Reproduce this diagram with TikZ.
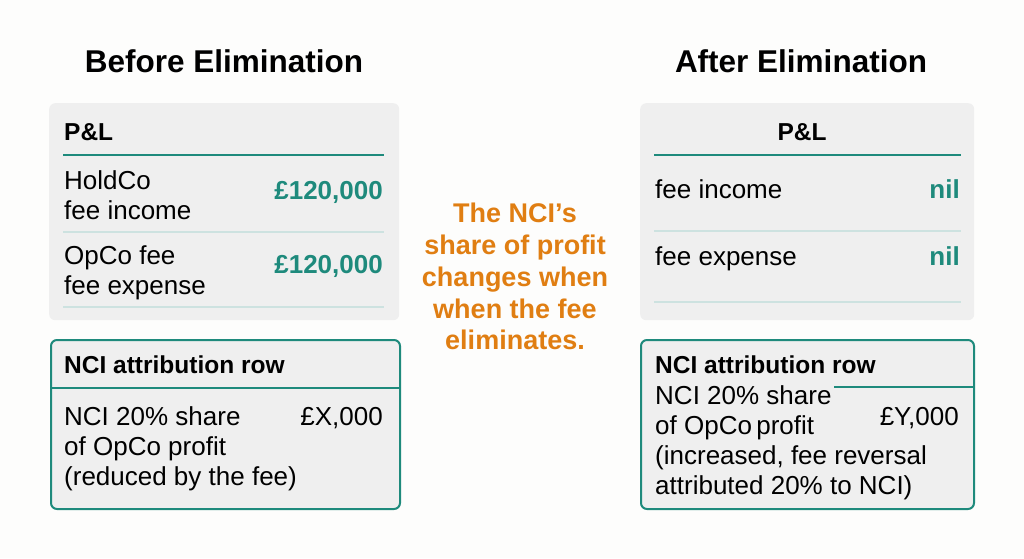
\documentclass[tikz,border=0pt]{standalone}
\usepackage{fontspec}
\setmainfont{Liberation Sans}
\definecolor{tealc}{HTML}{1E8A7C}
\definecolor{thinc}{HTML}{CDE2E0}
\definecolor{panelc}{HTML}{EFEFEF}
\definecolor{orangec}{HTML}{E07E12}
\definecolor{bgc}{HTML}{FDFDFC}
\begin{document}
\begin{tikzpicture}[x=1pt,y=-1pt,
  title/.style={font=\fontsize{31.5}{36}\selectfont\bfseries, anchor=base, inner sep=0},
  head/.style={font=\fontsize{24.5}{28}\selectfont\bfseries, anchor=base west, inner sep=0},
  body/.style={font=\fontsize{26}{30}\selectfont, anchor=base west, inner sep=0},
  val/.style={font=\fontsize{26}{30}\selectfont\bfseries, text=tealc, anchor=base east, inner sep=0},
  valr/.style={font=\fontsize{26}{30}\selectfont, anchor=base east, inner sep=0},
  panel/.style={fill=panelc, draw=none, rounded corners=6pt, anchor=north west, inner sep=0},
  ncibox/.style={fill=panelc, draw=tealc, line width=2pt, rounded corners=6pt, anchor=north west, inner sep=0},
  rulel/.style={draw=tealc, line width=2.6pt},
  thinl/.style={draw=thinc, line width=1.3pt},
  note/.style={font=\fontsize{27}{32}\selectfont\bfseries, text=orangec, anchor=base, inner sep=0}]
\useasboundingbox (0,0) rectangle (1024,558);
\fill[bgc] (0,0) rectangle (1024,558);

% titles
\node[title] (tB) at (224,72) {Before Elimination};
\node[title] (tA) at (801,72) {After Elimination};

% left P&L panel
\node[panel, minimum width=350, minimum height=217] (plL) at (49,103) {};
\node[head] (plLh) at (64,140) {P\&L};
\draw[rulel] (63,155) -- (384,155);
\node[body] (l1a) at (64,189) {HoldCo};
\node[body] (l1b) at (64,219) {fee income};
\node[val] (l1v) at (383,199) {£120,000};
\draw[thinl] (63,232) -- (384,232);
\node[body] (l2a) at (64,264) {OpCo fee};
\node[body] (l2b) at (64,294) {fee expense};
\node[val] (l2v) at (383,273) {£120,000};
\draw[thinl] (63,307) -- (384,307);

% left NCI box
\node[ncibox, minimum width=349, minimum height=169] (nL) at (50,339) {};
\node[head] (nLh) at (64,373) {NCI attribution row};
\draw[draw=tealc, line width=2pt] (nL.west |- 0,388) -- (nL.east |- 0,388);
\node[body] (n1) at (64,425) {NCI 20\% share};
\node[body] (n2) at (64,455) {of OpCo profit};
\node[body] (n3) at (64,485) {(reduced by the fee)};
\node[valr] (nLv) at (383,425) {£X,000};

% center note
\node[note] (c1) at (515,222) {The NCI’s};
\node[note] (c2) at (515,254) {share of profit};
\node[note] (c3) at (515,286) {changes when};
\node[note] (c4) at (515,318) {when the fee};
\node[note] (c5) at (515,349) {eliminates.};

% right P&L panel
\node[panel, minimum width=334, minimum height=217] (plR) at (640,103) {};
\node[head, anchor=base] (plRh) at (802,140) {P\&L};
\draw[rulel] (654,155) -- (961,155);
\node[body] (r1a) at (655,198) {fee income};
\node[val] (r1v) at (960,198) {nil};
\draw[thinl] (654,231) -- (961,231);
\node[body] (r2a) at (655,265) {fee expense};
\node[val] (r2v) at (960,265) {nil};
\draw[thinl] (654,302) -- (961,302);

% right NCI box
\node[ncibox, minimum width=333, minimum height=169] (nR) at (640,339) {};
\node[head] (nRh) at (655,373) {NCI attribution row};
\draw[draw=tealc, line width=2pt] (834,387) -- (nR.east |- 0,387);
\node[body] (m1) at (655,404) {NCI 20\% share};
\node[body] (m2) at (655,434) {of OpCo\,profit};
\node[body] (m3) at (655,464) {(increased, fee reversal};
\node[body] (m4) at (655,494) {attributed 20\% to NCI)};
\node[valr] (nRv) at (959,425) {£Y,000};
\end{tikzpicture}
\end{document}
